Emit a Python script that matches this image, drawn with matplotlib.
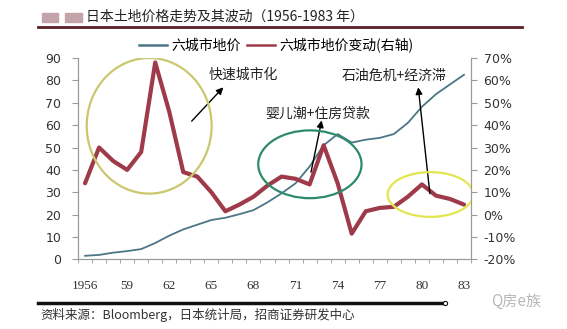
import matplotlib
matplotlib.use("Agg")
import matplotlib.pyplot as plt
from matplotlib.patches import Ellipse, Rectangle
from matplotlib.lines import Line2D
from matplotlib.ticker import FuncFormatter

plt.rcParams['font.family'] = ['Noto Sans CJK SC', 'DejaVu Sans']

# data
years = list(range(1956, 1984))
land_price = [1.6, 2.0, 3.0, 3.7, 4.6, 7.3, 10.6, 13.4, 15.5, 17.6,
              18.6, 20.2, 22.0, 25.5, 29.5, 34.0, 41.5, 51.0, 56.0, 52.2,
              53.5, 54.3, 56.0, 61.0, 68.2, 73.8, 78.2, 82.5]
price_change = [14, 30, 24, 20, 28, 68, 46, 19, 17, 10,
                1.5, 4.5, 8, 13, 17, 16, 13.5, 31, 14, -8.5,
                1.5, 3, 3.5, 8, 13.5, 8.5, 7, 4.5]
tick_years = [1956, 1959, 1962, 1965, 1968, 1971, 1974, 1977, 1980, 1983]
tick_labels = ['1956', '59', '62', '65', '68', '71', '74', '77', '80', '83']

blue = '#4a7686'
red = '#9e3a4a'
spine = '#9a9a9a'

fig = plt.figure(figsize=(5.67, 3.29), dpi=100)
ax = fig.add_axes([0.1376, 0.2116, 0.6931, 0.6121])
ax2 = ax.twinx()

ax.plot(years, land_price, color=blue, lw=1.3)
ax2.plot(years, price_change, color=red, lw=3.0, solid_joinstyle='round',
         solid_capstyle='round')

ax.set_xlim(1955.5, 1983.5)
ax.set_ylim(0, 90)
ax.set_yticks(range(0, 91, 10))
ax2.set_ylim(-20, 70)
ax2.set_yticks(range(-20, 71, 10))
ax2.yaxis.set_major_formatter(FuncFormatter(lambda v, p: f"{int(v)}%"))

ax.set_xticks(tick_years)
ax.set_xticklabels(tick_labels)
ax.set_xticks([y - 0.5 for y in years] + [1983.5], minor=True)
ax.tick_params(axis='x', which='major', length=0, pad=15, labelsize=9.5,
               labelcolor='#333333')
ax.tick_params(axis='x', which='minor', length=3, direction='out', color=spine)
for lab in ax.get_xticklabels():
    lab.set_fontfamily('Liberation Serif')
ax.tick_params(axis='y', length=4, color=spine, pad=8, labelsize=9,
               labelcolor='#333333')
ax2.tick_params(axis='y', length=4, color=spine, pad=5, labelsize=9,
                labelcolor='#333333')
for lab in ax.get_yticklabels() + ax2.get_yticklabels():
    lab.set_fontfamily('DejaVu Sans')

for a in (ax, ax2):
    a.spines['top'].set_visible(False)
    for s in ('left', 'right', 'bottom'):
        a.spines[s].set_color(spine)
        a.spines[s].set_linewidth(0.8)

# circles and arrows
ell = [((1960.57, 59.7), 8.9, 60.6, '#c9c86e'),
       ((1972.02, 42.5), 7.36, 30.3, '#2e8b6a'),
       ((1980.61, 29.0), 6.1, 20.0, '#e2e64e')]
for c, w, h, col in ell:
    ax2.add_patch(Ellipse(c, w, h, transform=ax.transData, fill=False,
                          ec=col, lw=1.6, zorder=5))

arrows = [((1963.6, 61.8), (1965.85, 76.9)),
          ((1972.1, 39.0), (1972.86, 62.1)),
          ((1980.57, 29.4), (1979.74, 76.9))]
for tail, tip in arrows:
    ax2.annotate('', xy=tip, xytext=tail, xycoords=ax.transData,
                 textcoords=ax.transData,
                 arrowprops=dict(arrowstyle='-|>', color='black', lw=1.0,
                                 mutation_scale=10, shrinkA=0, shrinkB=0))

notes = [(1964.78, 82.6, '快速城市化'),
         (1968.82, 65.1, '婴儿潮+住房贷款'),
         (1974.28, 82.1, '石油危机+经济滞')]
for x, y, s in notes:
    ax2.text(x, y, s, transform=ax.transData, fontsize=10, color='#222222',
             ha='left', va='center')
ax2.set_ylim(-20, 70)

# legend
handles = [Line2D([], [], color=blue, lw=1.8), Line2D([], [], color=red, lw=1.8)]
fig.legend(handles, ['六城市地价', '六城市地价变动(右轴)'], loc='center',
           bbox_to_anchor=(0.487, 0.862), ncol=2, frameon=False, fontsize=10,
           handlelength=2.0, handletextpad=0.3, columnspacing=0.5)

# header
fig.patches.append(Rectangle((0.074, 0.934), 0.028, 0.028, transform=fig.transFigure,
                             color='#c4a4aa', figure=fig))
fig.patches.append(Rectangle((0.115, 0.934), 0.030, 0.028, transform=fig.transFigure,
                             color='#c4a4aa', figure=fig))
fig.text(0.151, 0.948, '日本土地价格走势及其波动（1956-1983 年）', fontsize=10,
         color='#222222', ha='left', va='center')
fig.add_artist(Line2D([0.067, 0.921], [0.917, 0.917], color='#5a1e24', lw=2,
                      transform=fig.transFigure))

# footer
fig.add_artist(Line2D([0.067, 0.782], [0.080, 0.080], color='#111111', lw=2.5,
                      transform=fig.transFigure))
fig.add_artist(Line2D([0.785], [0.080], marker='o', ms=3, mfc='white',
                      mec='#111111', mew=0.8, transform=fig.transFigure))
fig.text(0.0705, 0.0435, '资料来源：Bloomberg，日本统计局，招商证券研发中心',
         fontsize=9, color='#333333', ha='left', va='center')
fig.text(0.91, 0.083, 'Q房e族', fontsize=11, color='#b8b8b8', ha='center',
         va='center')

fig.savefig('out.png', dpi=100, facecolor='white')
